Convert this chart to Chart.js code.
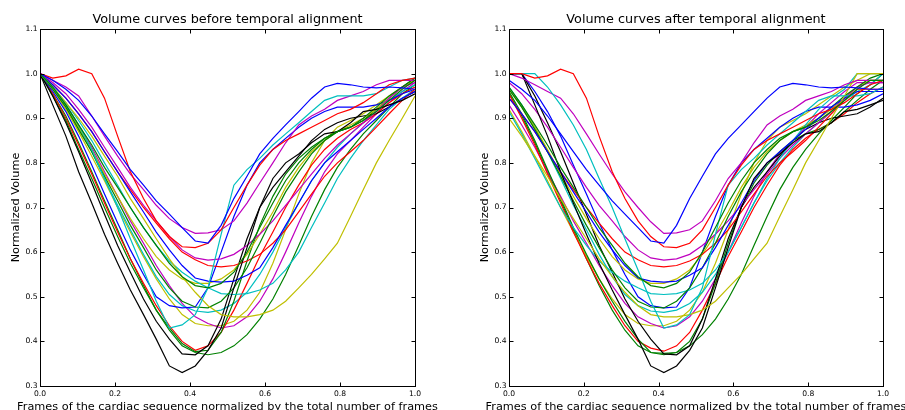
<!DOCTYPE html>
<html>
<head>
<meta charset="utf-8">
<script src="https://cdn.jsdelivr.net/npm/chart.js@4.4.0/dist/chart.umd.min.js"></script>
<style>
html, body { margin: 0; padding: 0; background: #fff; overflow: hidden; width: 905px; height: 410px; }
#before { position: absolute; left: 0; top: 0; }
#after { position: absolute; left: 469px; top: 0; }
</style>
</head>
<body>
<canvas id="before" width="450" height="418"></canvas>
<canvas id="after" width="436" height="418"></canvas>
<script>
// frame positions (frame index / number of frames)
var frames = [0, 0.034, 0.069, 0.103, 0.138, 0.172, 0.207, 0.241, 0.276, 0.310, 0.345, 0.379, 0.414, 0.448, 0.483,
  0.517, 0.552, 0.586, 0.621, 0.655, 0.690, 0.724, 0.759, 0.793, 0.828, 0.862, 0.897, 0.931, 0.966, 1.0];

var xTicks = [0, 0.2, 0.4, 0.6, 0.8, 1.0];
var yTicks = [0.3, 0.4, 0.5, 0.6, 0.7, 0.8, 0.9, 1.0, 1.1];

// matplotlib classic colour cycle
var curveColors = ['#0000ff', '#008000', '#ff0000', '#00bfbf', '#bf00bf', '#bfbf00', '#000000',
  '#0000ff', '#008000', '#ff0000', '#00bfbf', '#bf00bf', '#bfbf00', '#000000',
  '#0000ff', '#008000', '#ff0000', '#00bfbf', '#bf00bf', '#bfbf00', '#008000'];

// volume curves before alignment
var before01 = [1.0, 0.985, 0.965, 0.94, 0.905, 0.865, 0.825, 0.785, 0.75, 0.715, 0.685, 0.655, 0.625, 0.62, 0.66, 0.72, 0.77, 0.82, 0.855, 0.885, 0.915, 0.945, 0.97, 0.978, 0.975, 0.97, 0.968, 0.97, 0.968, 0.965];
var before02 = [1.0, 0.97, 0.93, 0.885, 0.84, 0.79, 0.745, 0.70, 0.655, 0.615, 0.575, 0.545, 0.525, 0.52, 0.53, 0.555, 0.60, 0.655, 0.71, 0.76, 0.80, 0.83, 0.855, 0.87, 0.88, 0.895, 0.915, 0.94, 0.965, 0.985];
var before03 = [1.0, 0.99, 0.995, 1.01, 1.0, 0.945, 0.86, 0.78, 0.72, 0.67, 0.635, 0.612, 0.61, 0.62, 0.65, 0.70, 0.75, 0.795, 0.83, 0.85, 0.865, 0.88, 0.895, 0.91, 0.92, 0.935, 0.955, 0.975, 0.985, 0.99];
var before04 = [1.0, 0.97, 0.93, 0.885, 0.83, 0.765, 0.70, 0.63, 0.56, 0.49, 0.43, 0.437, 0.46, 0.52, 0.64, 0.75, 0.785, 0.81, 0.84, 0.865, 0.89, 0.915, 0.94, 0.95, 0.95, 0.95, 0.955, 0.97, 0.985, 0.99];
var before05 = [1.0, 0.985, 0.97, 0.95, 0.905, 0.86, 0.815, 0.775, 0.74, 0.705, 0.675, 0.655, 0.642, 0.643, 0.65, 0.67, 0.71, 0.755, 0.80, 0.845, 0.885, 0.905, 0.92, 0.94, 0.95, 0.96, 0.975, 0.985, 0.985, 0.985];
var before06 = [1.0, 0.97, 0.935, 0.90, 0.86, 0.815, 0.77, 0.72, 0.675, 0.63, 0.585, 0.545, 0.51, 0.48, 0.46, 0.455, 0.455, 0.46, 0.47, 0.49, 0.52, 0.55, 0.585, 0.62, 0.68, 0.74, 0.80, 0.85, 0.90, 0.95];
var before07 = [1.0, 0.93, 0.86, 0.78, 0.71, 0.64, 0.575, 0.515, 0.46, 0.405, 0.345, 0.33, 0.345, 0.38, 0.43, 0.52, 0.61, 0.70, 0.765, 0.80, 0.82, 0.845, 0.865, 0.87, 0.89, 0.915, 0.92, 0.93, 0.94, 0.955];
var before08 = [1.0, 0.975, 0.945, 0.91, 0.87, 0.825, 0.78, 0.735, 0.69, 0.645, 0.605, 0.57, 0.542, 0.535, 0.533, 0.535, 0.548, 0.565, 0.61, 0.66, 0.71, 0.76, 0.80, 0.825, 0.85, 0.875, 0.9, 0.925, 0.945, 0.96];
var before09 = [1.0, 0.965, 0.925, 0.875, 0.825, 0.77, 0.715, 0.66, 0.61, 0.56, 0.52, 0.49, 0.477, 0.475, 0.49, 0.52, 0.565, 0.62, 0.68, 0.735, 0.78, 0.82, 0.85, 0.87, 0.88, 0.9, 0.925, 0.95, 0.97, 0.99];
var before10 = [1.0, 0.975, 0.945, 0.91, 0.87, 0.825, 0.78, 0.74, 0.70, 0.665, 0.63, 0.60, 0.583, 0.57, 0.567, 0.57, 0.58, 0.595, 0.62, 0.65, 0.69, 0.73, 0.77, 0.80, 0.825, 0.85, 0.88, 0.91, 0.94, 0.965];
var before11 = [1.0, 0.97, 0.935, 0.895, 0.85, 0.80, 0.75, 0.70, 0.655, 0.615, 0.58, 0.555, 0.535, 0.52, 0.507, 0.505, 0.507, 0.515, 0.53, 0.56, 0.60, 0.655, 0.71, 0.765, 0.81, 0.85, 0.885, 0.92, 0.945, 0.965];
var before12 = [1.0, 0.98, 0.955, 0.92, 0.88, 0.835, 0.79, 0.745, 0.705, 0.67, 0.635, 0.605, 0.587, 0.582, 0.585, 0.595, 0.615, 0.64, 0.67, 0.705, 0.74, 0.775, 0.81, 0.84, 0.865, 0.89, 0.915, 0.945, 0.97, 0.98];
var before13 = [1.0, 0.965, 0.925, 0.88, 0.83, 0.775, 0.725, 0.675, 0.63, 0.59, 0.56, 0.54, 0.53, 0.53, 0.54, 0.56, 0.595, 0.64, 0.69, 0.745, 0.79, 0.825, 0.85, 0.87, 0.885, 0.90, 0.92, 0.945, 0.97, 0.985];
var before14 = [1.0, 0.95, 0.89, 0.825, 0.755, 0.685, 0.615, 0.555, 0.495, 0.445, 0.405, 0.372, 0.37, 0.39, 0.45, 0.54, 0.63, 0.70, 0.745, 0.78, 0.815, 0.85, 0.875, 0.89, 0.90, 0.905, 0.91, 0.925, 0.945, 0.96];
var before15 = [1.0, 0.96, 0.915, 0.86, 0.795, 0.73, 0.665, 0.605, 0.55, 0.50, 0.48, 0.475, 0.477, 0.52, 0.60, 0.68, 0.75, 0.80, 0.83, 0.855, 0.88, 0.90, 0.915, 0.925, 0.925, 0.925, 0.93, 0.94, 0.955, 0.965];
var before16 = [1.0, 0.95, 0.895, 0.83, 0.765, 0.70, 0.635, 0.575, 0.52, 0.47, 0.43, 0.395, 0.377, 0.38, 0.42, 0.49, 0.58, 0.66, 0.725, 0.775, 0.81, 0.835, 0.855, 0.87, 0.88, 0.895, 0.92, 0.945, 0.97, 0.99];
var before17 = [1.0, 0.955, 0.90, 0.84, 0.775, 0.71, 0.645, 0.585, 0.53, 0.48, 0.435, 0.40, 0.38, 0.39, 0.42, 0.47, 0.53, 0.59, 0.645, 0.70, 0.75, 0.795, 0.83, 0.855, 0.875, 0.89, 0.91, 0.935, 0.955, 0.97];
var before18 = [1.0, 0.97, 0.93, 0.88, 0.825, 0.765, 0.705, 0.65, 0.595, 0.545, 0.505, 0.48, 0.468, 0.465, 0.47, 0.485, 0.51, 0.55, 0.60, 0.655, 0.71, 0.76, 0.80, 0.835, 0.865, 0.89, 0.915, 0.94, 0.96, 0.975];
var before19 = [1.0, 0.97, 0.93, 0.885, 0.835, 0.78, 0.725, 0.67, 0.62, 0.57, 0.525, 0.485, 0.455, 0.44, 0.43, 0.435, 0.455, 0.49, 0.54, 0.60, 0.665, 0.725, 0.78, 0.82, 0.85, 0.88, 0.91, 0.935, 0.96, 0.98];
var before20 = [1.0, 0.965, 0.92, 0.87, 0.815, 0.76, 0.70, 0.645, 0.59, 0.54, 0.495, 0.46, 0.44, 0.435, 0.435, 0.445, 0.47, 0.51, 0.575, 0.65, 0.73, 0.80, 0.85, 0.88, 0.895, 0.91, 0.93, 0.95, 0.97, 0.985];
var before21 = [1.0, 0.955, 0.905, 0.845, 0.78, 0.715, 0.65, 0.585, 0.525, 0.47, 0.425, 0.39, 0.375, 0.37, 0.375, 0.39, 0.415, 0.45, 0.495, 0.55, 0.615, 0.68, 0.74, 0.79, 0.83, 0.865, 0.895, 0.925, 0.955, 0.975];

// volume curves after alignment
var after01 = [0.985, 0.965, 0.94, 0.905, 0.865, 0.825, 0.785, 0.75, 0.715, 0.685, 0.655, 0.625, 0.62, 0.66, 0.72, 0.77, 0.82, 0.855, 0.885, 0.915, 0.945, 0.97, 0.978, 0.975, 0.97, 0.968, 0.97, 0.968, 0.965, 0.965];
var after02 = [0.97, 0.93, 0.885, 0.84, 0.79, 0.745, 0.70, 0.655, 0.615, 0.575, 0.545, 0.525, 0.52, 0.53, 0.555, 0.60, 0.655, 0.71, 0.76, 0.80, 0.83, 0.855, 0.87, 0.88, 0.895, 0.915, 0.94, 0.965, 0.985, 0.985];
var after03 = [1.0, 1.0, 0.99, 0.995, 1.01, 1.0, 0.945, 0.86, 0.78, 0.72, 0.67, 0.635, 0.612, 0.61, 0.62, 0.65, 0.70, 0.75, 0.795, 0.83, 0.85, 0.865, 0.88, 0.895, 0.91, 0.92, 0.935, 0.955, 0.975, 0.985];
var after04 = [1.0, 1.0, 1.0, 0.97, 0.93, 0.885, 0.83, 0.765, 0.70, 0.63, 0.56, 0.49, 0.43, 0.437, 0.46, 0.52, 0.64, 0.75, 0.785, 0.81, 0.84, 0.865, 0.89, 0.915, 0.94, 0.95, 0.95, 0.95, 0.955, 0.97];
var after05 = [1.0, 0.99, 0.975, 0.96, 0.945, 0.91, 0.865, 0.82, 0.775, 0.735, 0.70, 0.668, 0.642, 0.643, 0.65, 0.67, 0.715, 0.765, 0.80, 0.845, 0.885, 0.905, 0.92, 0.94, 0.95, 0.96, 0.975, 0.985, 0.985, 0.985];
var after06 = [0.90, 0.86, 0.815, 0.77, 0.72, 0.675, 0.63, 0.585, 0.545, 0.51, 0.48, 0.46, 0.455, 0.455, 0.46, 0.47, 0.49, 0.52, 0.55, 0.585, 0.62, 0.68, 0.74, 0.80, 0.85, 0.90, 0.95, 1.0, 1.0, 1.0];
var after07 = [1.0, 1.0, 0.93, 0.86, 0.78, 0.71, 0.64, 0.575, 0.515, 0.46, 0.405, 0.345, 0.33, 0.345, 0.38, 0.43, 0.52, 0.61, 0.70, 0.765, 0.80, 0.82, 0.845, 0.865, 0.87, 0.89, 0.915, 0.92, 0.93, 0.94];
var after08 = [0.945, 0.91, 0.87, 0.825, 0.78, 0.735, 0.69, 0.645, 0.605, 0.57, 0.542, 0.535, 0.533, 0.535, 0.548, 0.565, 0.61, 0.66, 0.71, 0.76, 0.80, 0.825, 0.85, 0.875, 0.9, 0.925, 0.945, 0.96, 0.96, 0.96];
var after09 = [0.965, 0.925, 0.875, 0.825, 0.77, 0.715, 0.66, 0.61, 0.56, 0.52, 0.49, 0.477, 0.475, 0.49, 0.52, 0.565, 0.62, 0.68, 0.735, 0.78, 0.82, 0.85, 0.87, 0.88, 0.9, 0.925, 0.95, 0.97, 0.99, 1.0];
var after10 = [0.945, 0.91, 0.87, 0.825, 0.78, 0.74, 0.70, 0.665, 0.63, 0.60, 0.583, 0.57, 0.567, 0.57, 0.58, 0.595, 0.62, 0.65, 0.69, 0.73, 0.77, 0.80, 0.825, 0.85, 0.88, 0.91, 0.94, 0.965, 0.965, 0.965];
var after11 = [0.915, 0.865, 0.81, 0.755, 0.70, 0.655, 0.615, 0.58, 0.555, 0.535, 0.52, 0.507, 0.505, 0.507, 0.515, 0.53, 0.56, 0.60, 0.655, 0.71, 0.765, 0.81, 0.85, 0.885, 0.92, 0.945, 0.965, 1.0, 1.0, 1.0];
var after12 = [0.98, 0.955, 0.92, 0.88, 0.835, 0.79, 0.745, 0.705, 0.67, 0.635, 0.605, 0.587, 0.582, 0.585, 0.595, 0.615, 0.64, 0.67, 0.705, 0.74, 0.775, 0.81, 0.84, 0.865, 0.89, 0.915, 0.945, 0.97, 0.98, 0.98];
var after13 = [0.965, 0.925, 0.88, 0.83, 0.775, 0.725, 0.675, 0.63, 0.59, 0.56, 0.54, 0.53, 0.53, 0.54, 0.56, 0.595, 0.64, 0.69, 0.745, 0.79, 0.825, 0.85, 0.87, 0.885, 0.90, 0.92, 0.945, 0.97, 0.985, 0.985];
var after14 = [1.0, 1.0, 0.95, 0.89, 0.825, 0.755, 0.685, 0.615, 0.555, 0.495, 0.445, 0.405, 0.372, 0.37, 0.39, 0.45, 0.54, 0.63, 0.70, 0.745, 0.78, 0.815, 0.85, 0.875, 0.89, 0.90, 0.905, 0.91, 0.925, 0.945];
var after15 = [1.0, 1.0, 0.96, 0.915, 0.86, 0.795, 0.73, 0.665, 0.605, 0.55, 0.50, 0.48, 0.475, 0.477, 0.52, 0.60, 0.68, 0.75, 0.80, 0.83, 0.855, 0.88, 0.90, 0.915, 0.925, 0.925, 0.925, 0.93, 0.94, 0.955];
var after16 = [0.96, 0.91, 0.85, 0.785, 0.72, 0.655, 0.595, 0.54, 0.49, 0.445, 0.405, 0.375, 0.373, 0.375, 0.40, 0.45, 0.53, 0.62, 0.70, 0.755, 0.795, 0.825, 0.85, 0.865, 0.875, 0.89, 0.915, 0.94, 0.965, 0.985];
var after17 = [0.955, 0.90, 0.84, 0.775, 0.71, 0.645, 0.585, 0.53, 0.48, 0.435, 0.40, 0.385, 0.378, 0.39, 0.42, 0.47, 0.53, 0.59, 0.645, 0.70, 0.75, 0.795, 0.83, 0.855, 0.875, 0.89, 0.91, 0.935, 0.955, 0.97];
var after18 = [0.97, 0.93, 0.88, 0.825, 0.765, 0.705, 0.65, 0.595, 0.545, 0.505, 0.48, 0.468, 0.465, 0.47, 0.485, 0.51, 0.55, 0.60, 0.655, 0.71, 0.76, 0.80, 0.835, 0.865, 0.89, 0.915, 0.94, 0.96, 0.975, 1.0];
var after19 = [0.93, 0.885, 0.835, 0.78, 0.725, 0.67, 0.62, 0.57, 0.525, 0.485, 0.455, 0.44, 0.43, 0.435, 0.455, 0.49, 0.54, 0.60, 0.665, 0.725, 0.78, 0.82, 0.85, 0.88, 0.91, 0.935, 0.96, 0.98, 0.98, 0.98];
var after20 = [0.92, 0.87, 0.815, 0.76, 0.70, 0.645, 0.59, 0.54, 0.495, 0.46, 0.44, 0.435, 0.435, 0.445, 0.47, 0.51, 0.575, 0.65, 0.73, 0.80, 0.85, 0.88, 0.895, 0.91, 0.93, 0.95, 0.97, 0.985, 1.0, 1.0];
var after21 = [0.955, 0.905, 0.845, 0.78, 0.715, 0.65, 0.585, 0.525, 0.47, 0.425, 0.39, 0.375, 0.37, 0.375, 0.39, 0.415, 0.45, 0.495, 0.55, 0.615, 0.68, 0.74, 0.79, 0.83, 0.865, 0.895, 0.925, 0.955, 0.975, 1.0];

var beforeCurves = [before01, before02, before03, before04, before05, before06, before07, before08, before09, before10, before11,
  before12, before13, before14, before15, before16, before17, before18, before19, before20, before21];
var afterCurves = [after01, after02, after03, after04, after05, after06, after07, after08, after09, after10, after11,
  after12, after13, after14, after15, after16, after17, after18, after19, after20, after21];

var FONT = '"DejaVu Sans", sans-serif';
Chart.defaults.font.family = FONT;
Chart.defaults.color = '#000';

// box, inward ticks on all four sides, and title / x label centred on the plot
var frameTicks = {
  id: 'frameTicks',
  afterDatasetsDraw: function(chart, args, opts) {
    var a = chart.chartArea, c = chart.ctx;
    var xs = chart.scales.x, ys = chart.scales.y;
    var L = Math.round(a.left) + 0.5, R = Math.round(a.right) + 0.5;
    var T = Math.round(a.top) + 0.5, B = Math.round(a.bottom) + 0.5;
    c.save();
    c.strokeStyle = '#000';
    c.lineWidth = 1;
    c.beginPath();
    xs.ticks.forEach(function(t, i) {
      var p = Math.round(xs.getPixelForTick(i)) + 0.5;
      c.moveTo(p, B); c.lineTo(p, B - 4);
      c.moveTo(p, T); c.lineTo(p, T + 4);
    });
    ys.ticks.forEach(function(t, i) {
      var p = Math.round(ys.getPixelForTick(i)) + 0.5;
      c.moveTo(L, p); c.lineTo(L + 4, p);
      c.moveTo(R, p); c.lineTo(R - 4, p);
    });
    c.stroke();
    c.strokeRect(L, T, R - L, B - T);

    var cx = (a.left + a.right) / 2;
    c.fillStyle = '#000';
    c.textAlign = 'center';
    c.textBaseline = 'alphabetic';
    c.font = '12.8px ' + FONT;
    c.fillText(opts.title, cx, 23);
    c.font = '11.3px ' + FONT;
    c.fillText(opts.xLabel, cx, 410);
    c.restore();
  }
};

function makeChart(id, title, curves, padRight) {
  var datasets = curves.map(function(ys, k) {
    return {
      data: ys.map(function(v, i) { return { x: frames[i], y: v }; }),
      borderColor: curveColors[k],
      borderWidth: 1.2,
      pointRadius: 0,
      tension: 0,
      fill: false
    };
  });
  return new Chart(document.getElementById(id), {
    type: 'line',
    data: { datasets: datasets },
    options: {
      responsive: false,
      animation: false,
      layout: { padding: { left: 0, right: padRight, top: 29, bottom: 0 } },
      plugins: {
        legend: { display: false },
        tooltip: { enabled: false },
        title: { display: false },
        frameTicks: {
          title: title,
          xLabel: 'Frames of the cardiac sequence normalized by the total number of frames'
        }
      },
      scales: {
        x: {
          type: 'linear',
          min: 0, max: 1,
          afterBuildTicks: function(s) { s.ticks = xTicks.map(function(v) { return { value: v }; }); },
          afterFit: function(s) { s.height = 32; },
          grid: { display: false, drawTicks: false },
          border: { display: false },
          ticks: {
            padding: 3,
            font: { size: 7.6 },
            color: '#000',
            callback: function(v) { return v.toFixed(1); }
          }
        },
        y: {
          min: 0.3, max: 1.1,
          afterBuildTicks: function(s) { s.ticks = yTicks.map(function(v) { return { value: v }; }); },
          afterFit: function(s) { s.width = 40; },
          grid: { display: false, drawTicks: false },
          border: { display: false },
          ticks: {
            padding: 2.5,
            font: { size: 7.6 },
            color: '#000',
            callback: function(v) { return v.toFixed(1); }
          },
          title: {
            display: true,
            text: 'Normalized Volume',
            font: { size: 11.3 },
            color: '#000',
            padding: { top: 9, bottom: 0 }
          }
        }
      }
    },
    plugins: [frameTicks]
  });
}

makeChart('before', 'Volume curves before temporal alignment', beforeCurves, 35);
makeChart('after', 'Volume curves after temporal alignment', afterCurves, 22);
</script>
</body>
</html>
